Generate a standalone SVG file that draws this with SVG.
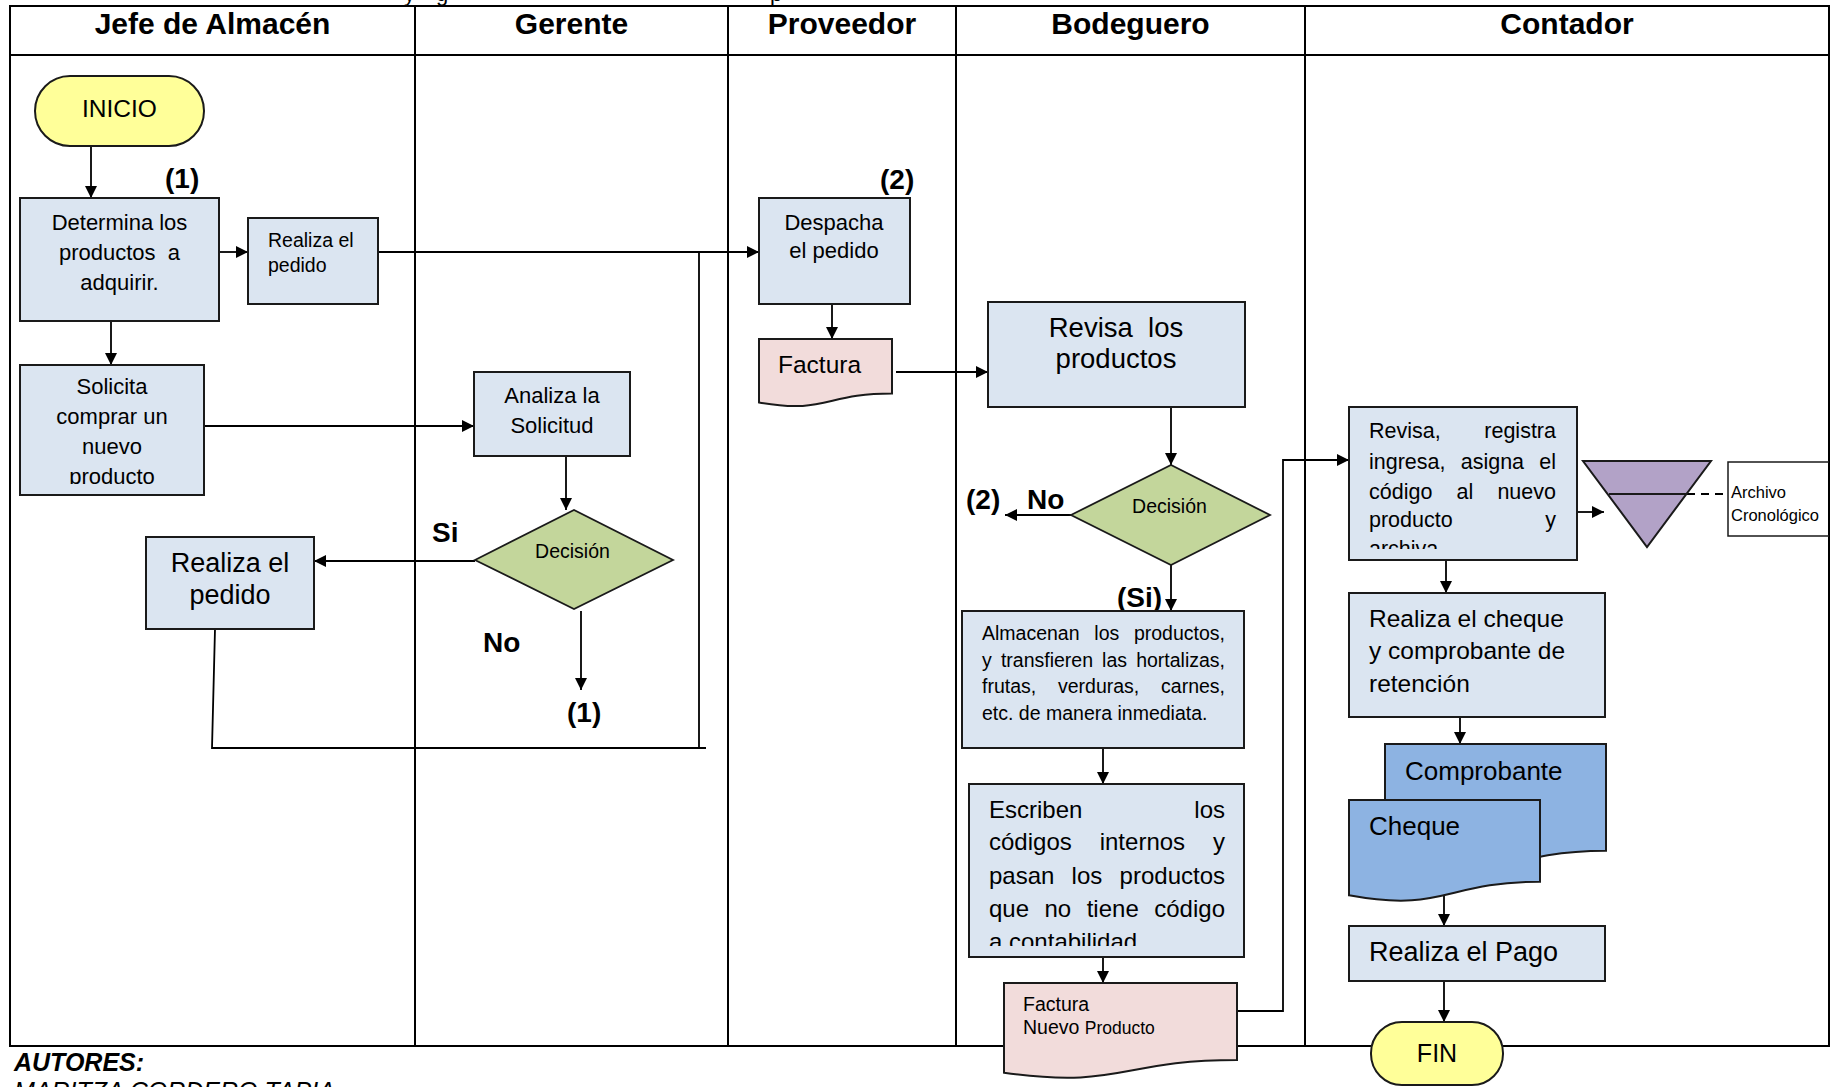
<svg xmlns="http://www.w3.org/2000/svg" width="1839" height="1087" viewBox="0 0 1839 1087">
  <style>
    text { font-family: "Liberation Sans", Arial, sans-serif; fill: #000; }
    .hdr { font-size: 30px; font-weight: bold; text-anchor: middle; }
    .frame { fill: none; stroke: #000; stroke-width: 2; }
    .proc { fill: #dbe5f1; stroke: #1a1a1a; stroke-width: 2; }
    .term { fill: #ffff99; stroke: #1a1a1a; stroke-width: 2; }
    .dec { fill: #c3d69b; stroke: #1a1a1a; stroke-width: 1.8; }
    .docp { fill: #f2dcdb; stroke: #1a1a1a; stroke-width: 2; }
    .docb { fill: #8db3e2; stroke: #1a1a1a; stroke-width: 2; }
    .arch { fill: #b2a2c7; stroke: #1a1a1a; stroke-width: 2; }
    .conn { fill: none; stroke: #000; stroke-width: 1.8; }
    .arrow { marker-end: url(#ah); }
    .lbl { font-size: 28px; font-weight: bold; }
    .mid { text-anchor: middle; }
    .end { text-anchor: end; }
  </style>
  <defs>
    <marker id="ah" viewBox="0 0 12 12" markerUnits="userSpaceOnUse" markerWidth="12" markerHeight="12" refX="12" refY="6" orient="auto">
      <path d="M0,0 L12,6 L0,12 Z" fill="#000"/>
    </marker>
    <clipPath id="clipSolicita"><rect x="20" y="365" width="184" height="119"/></clipPath>
    <clipPath id="clipEscriben"><rect x="969" y="784" width="275" height="162"/></clipPath>
    <clipPath id="clipRegistra"><rect x="1349" y="407" width="228" height="142"/></clipPath>
  </defs>

  <rect width="1839" height="1087" fill="#fff"/>

  <!-- title line above the table (only its descenders are visible) -->
  <g id="title-fragments" font-size="22">
    <text x="404" y="1">y</text>
    <text x="436" y="1">g</text>
    <text x="770" y="1">p</text>
  </g>

  <!-- swimlane table -->
  <g id="lanes">
    <rect class="frame" x="10" y="6" width="1819" height="1040"/>
    <line class="frame" x1="10" y1="55" x2="1829" y2="55"/>
    <line class="frame" x1="415" y1="6" x2="415" y2="1046"/>
    <line class="frame" x1="728" y1="6" x2="728" y2="1046"/>
    <line class="frame" x1="956" y1="6" x2="956" y2="1046"/>
    <line class="frame" x1="1305" y1="6" x2="1305" y2="1046"/>
    <text class="hdr" x="212.5" y="34">Jefe de Almacén</text>
    <text class="hdr" x="571.5" y="34">Gerente</text>
    <text class="hdr" x="842" y="34">Proveedor</text>
    <text class="hdr" x="1130.5" y="34">Bodeguero</text>
    <text class="hdr" x="1567" y="34">Contador</text>
  </g>

  <!-- connectors -->
  <g id="connectors">
    <line class="conn arrow" x1="91" y1="146" x2="91" y2="198"/>
    <line class="conn arrow" x1="219" y1="252" x2="248" y2="252"/>
    <line class="conn arrow" x1="378" y1="252" x2="759" y2="252"/>
    <line class="conn arrow" x1="111" y1="321" x2="111" y2="365"/>
    <line class="conn arrow" x1="204" y1="426" x2="474" y2="426"/>
    <line class="conn arrow" x1="566" y1="456" x2="566" y2="510"/>
    <line class="conn arrow" x1="475" y1="561" x2="314" y2="561"/>
    <line class="conn arrow" x1="581" y1="611" x2="581" y2="690"/>
    <polyline class="conn" points="215,629 212,748 706,748"/>
    <line class="conn" x1="699" y1="252" x2="699" y2="748"/>
    <line class="conn arrow" x1="832" y1="304" x2="832" y2="339"/>
    <line class="conn arrow" x1="896" y1="372" x2="988" y2="372"/>
    <line class="conn arrow" x1="1171" y1="407" x2="1171" y2="465"/>
    <line class="conn arrow" x1="1071" y1="515" x2="1005" y2="515"/>
    <line class="conn arrow" x1="1171" y1="565" x2="1171" y2="611"/>
    <line class="conn arrow" x1="1103" y1="748" x2="1103" y2="784"/>
    <line class="conn arrow" x1="1103" y1="957" x2="1103" y2="983"/>
    <polyline class="conn arrow" points="1237,1011 1283,1011 1283,460 1349,460"/>
    <line class="conn arrow" x1="1577" y1="512" x2="1604" y2="512"/>
    <line class="conn" x1="1687" y1="494" x2="1728" y2="494" stroke-dasharray="8 6"/>
    <line class="conn arrow" x1="1446" y1="560" x2="1446" y2="593"/>
    <line class="conn arrow" x1="1460" y1="717" x2="1460" y2="744"/>
    <line class="conn arrow" x1="1444" y1="895" x2="1444" y2="926"/>
    <line class="conn arrow" x1="1444" y1="981" x2="1444" y2="1022"/>
  </g>

  <!-- Jefe de Almacén lane -->
  <g id="inicio">
    <rect class="term" x="35" y="76" width="169" height="70" rx="35"/>
    <text class="mid" x="119.5" y="117" font-size="24.5">INICIO</text>
  </g>
  <g id="ref1-top"><text class="lbl" x="165" y="188">(1)</text></g>
  <g id="determina">
    <rect class="proc" x="20" y="198" width="199" height="123"/>
    <text class="mid" x="119.5" y="230" font-size="22">Determina los</text>
    <text class="mid" x="119.5" y="260" font-size="22" xml:space="preserve">productos  a</text>
    <text class="mid" x="119.5" y="290" font-size="22">adquirir.</text>
  </g>
  <g id="realiza-pedido-1">
    <rect class="proc" x="248" y="218" width="130" height="86"/>
    <text x="268" y="247" font-size="19.5">Realiza el</text>
    <text x="268" y="272" font-size="19.5">pedido</text>
  </g>
  <g id="solicita">
    <rect class="proc" x="20" y="365" width="184" height="130"/>
    <g clip-path="url(#clipSolicita)" font-size="22">
      <text class="mid" x="112" y="394">Solicita</text>
      <text class="mid" x="112" y="424">comprar un</text>
      <text class="mid" x="112" y="454">nuevo</text>
      <text class="mid" x="112" y="484">producto</text>
    </g>
  </g>
  <g id="realiza-pedido-2">
    <rect class="proc" x="146" y="537" width="168" height="92"/>
    <text class="mid" x="230" y="572" font-size="27">Realiza el</text>
    <text class="mid" x="230" y="604" font-size="27">pedido</text>
  </g>

  <!-- Gerente lane -->
  <g id="analiza">
    <rect class="proc" x="474" y="372" width="156" height="84"/>
    <text class="mid" x="552" y="403" font-size="22">Analiza la</text>
    <text class="mid" x="552" y="433" font-size="22">Solicitud</text>
  </g>
  <g id="decision-1">
    <polygon class="dec" points="475,560 574,510 673,560 574,609"/>
    <text class="mid" x="572.5" y="558" font-size="19.5">Decisión</text>
  </g>
  <g id="labels-gerente">
    <text class="lbl" x="432" y="542">Si</text>
    <text class="lbl" x="483" y="652">No</text>
    <text class="lbl" x="567" y="722">(1)</text>
  </g>

  <!-- Proveedor lane -->
  <g id="ref2-top"><text class="lbl" x="880" y="189">(2)</text></g>
  <g id="despacha">
    <rect class="proc" x="759" y="198" width="151" height="106"/>
    <text class="mid" x="834" y="230" font-size="22">Despacha</text>
    <text class="mid" x="834" y="258" font-size="22">el pedido</text>
  </g>
  <g id="factura">
    <path class="docp" d="M759,339 H892 V393.5 C825.5,393.5 825.5,414.3 759,402.5 Z"/>
    <text x="778" y="373" font-size="24.5">Factura</text>
  </g>

  <!-- Bodeguero lane -->
  <g id="revisa-productos">
    <rect class="proc" x="988" y="302" width="257" height="105"/>
    <text class="mid" x="1116" y="337" font-size="27.5" xml:space="preserve">Revisa  los</text>
    <text class="mid" x="1116" y="368" font-size="27.5">productos</text>
  </g>
  <g id="decision-2">
    <polygon class="dec" points="1071,515 1171,465 1270,515 1171,565"/>
    <text class="mid" x="1169.5" y="513" font-size="19.5">Decisión</text>
  </g>
  <g id="labels-bodeguero">
    <text class="lbl" x="966" y="509">(2)</text>
    <text class="lbl" x="1027" y="509">No</text>
    <text class="lbl" x="1117" y="607">(Si)</text>
  </g>
  <g id="almacenan" font-size="19.5">
    <rect class="proc" x="962" y="611" width="282" height="137"/>
    <text x="982" y="640">Almacenan</text>
    <text x="1094.3" y="640">los</text>
    <text class="end" x="1225" y="640">productos,</text>
    <text x="982" y="666.5">y</text>
    <text x="1000.9" y="666.5">transfieren</text>
    <text x="1102.1" y="666.5">las</text>
    <text class="end" x="1225" y="666.5">hortalizas,</text>
    <text x="982" y="693">frutas,</text>
    <text x="1058" y="693">verduras,</text>
    <text class="end" x="1225" y="693">carnes,</text>
    <text x="982" y="719.5">etc. de manera inmediata.</text>
  </g>
  <g id="escriben">
    <rect class="proc" x="969" y="784" width="275" height="173"/>
    <g clip-path="url(#clipEscriben)" font-size="24">
      <text x="989" y="818">Escriben</text>
      <text class="end" x="1225" y="818">los</text>
      <text x="989" y="850">códigos</text>
      <text x="1099.7" y="850">internos</text>
      <text class="end" x="1225" y="850">y</text>
      <text x="989" y="884">pasan</text>
      <text x="1071.6" y="884">los</text>
      <text class="end" x="1225" y="884">productos</text>
      <text x="989" y="917">que</text>
      <text x="1044.5" y="917">no</text>
      <text x="1086.7" y="917">tiene</text>
      <text class="end" x="1225" y="917">código</text>
      <text x="989" y="950">a contabilidad</text>
    </g>
  </g>
  <g id="factura-nuevo">
    <path class="docp" d="M1004,983 H1237 V1060 C1120.5,1060 1120.5,1089.3 1004,1072.7 Z"/>
    <text x="1023" y="1011" font-size="19.5">Factura</text>
    <text x="1023" y="1034" font-size="19.5">Nuevo <tspan font-size="17.5">Producto</tspan></text>
  </g>

  <!-- Contador lane -->
  <g id="revisa-registra">
    <rect class="proc" x="1349" y="407" width="228" height="153"/>
    <g clip-path="url(#clipRegistra)" font-size="21.5">
      <text x="1369" y="438">Revisa,</text>
      <text class="end" x="1556" y="438">registra</text>
      <text x="1369" y="469">ingresa,</text>
      <text x="1460.7" y="469">asigna</text>
      <text class="end" x="1556" y="469">el</text>
      <text x="1369" y="499">código</text>
      <text x="1456.5" y="499">al</text>
      <text class="end" x="1556" y="499">nuevo</text>
      <text x="1369" y="527">producto</text>
      <text class="end" x="1556" y="527">y</text>
      <text x="1369" y="556">archiva</text>
    </g>
  </g>
  <g id="archivo">
    <polygon class="arch" points="1583,461 1711,461 1647,547"/>
    <line x1="1609" y1="494" x2="1686" y2="494" stroke="#1a1a1a" stroke-width="2"/>
  </g>
  <g id="archivo-cronologico">
    <polyline points="1829,462 1728,462 1728,536 1829,536" fill="none" stroke="#1a1a1a" stroke-width="1.5"/>
    <text x="1731" y="498" font-size="16.5">Archivo</text>
    <text x="1731" y="521" font-size="16.5">Cronológico</text>
  </g>
  <g id="realiza-cheque">
    <rect class="proc" x="1349" y="593" width="256" height="124"/>
    <text x="1369" y="627" font-size="24.5">Realiza el cheque</text>
    <text x="1369" y="659" font-size="24.5">y comprobante de</text>
    <text x="1369" y="692" font-size="24.5">retención</text>
  </g>
  <g id="comprobante">
    <path class="docb" d="M1385,744 H1606 V850.7 C1495.5,850.7 1495.5,891.2 1385,868.2 Z"/>
    <text x="1405" y="780" font-size="26">Comprobante</text>
  </g>
  <g id="cheque">
    <path class="docb" d="M1349,800 H1540 V881.8 C1444.5,881.8 1444.5,912.9 1349,895.3 Z"/>
    <text x="1369" y="835" font-size="26">Cheque</text>
  </g>
  <g id="realiza-pago">
    <rect class="proc" x="1349" y="926" width="256" height="55"/>
    <text x="1369" y="961" font-size="27">Realiza el Pago</text>
  </g>
  <g id="fin">
    <rect class="term" x="1371" y="1022" width="132" height="63" rx="31"/>
    <text class="mid" x="1437" y="1062" font-size="25">FIN</text>
  </g>

  <!-- authors footer -->
  <g id="autores">
    <text x="14" y="1071" font-size="25" font-weight="bold" font-style="italic">AUTORES:</text>
    <text x="14" y="1100" font-size="25" font-style="italic">MARITZA CORDERO TAPIA</text>
  </g>
</svg>
